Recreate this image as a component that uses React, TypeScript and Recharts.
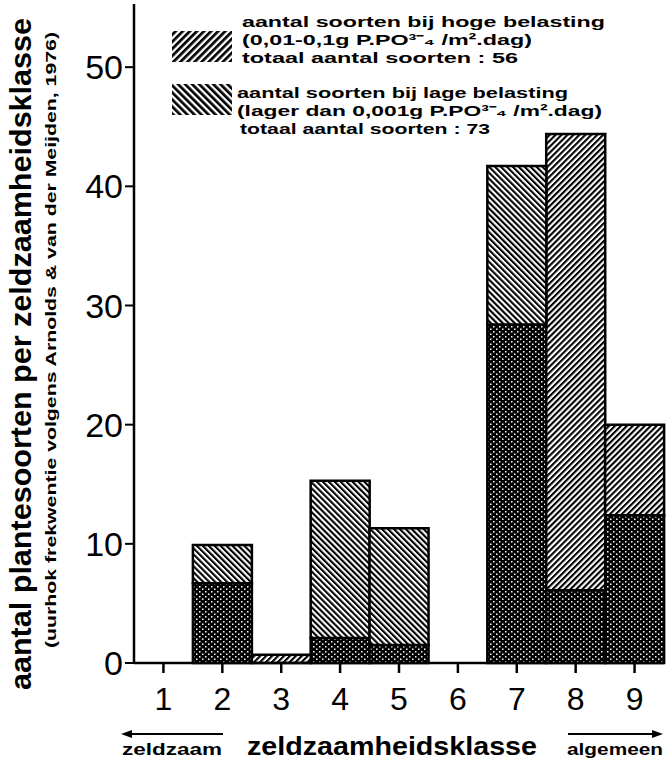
import { BarChart, Bar, XAxis, YAxis } from "recharts";

// zeldzaamheidsklassen (uurhokfrekwentie) en aandeel soorten per klasse
const klassen = ["1", "2", "3", "4", "5", "6", "7", "8", "9"];
const hogeBelasting = [0, 6.7, 0.7, 2.1, 1.5, 0, 28.4, 44.4, 20.0];
const lageBelasting = [0, 9.9, 0, 15.3, 11.3, 0, 41.7, 6.1, 12.4];
const yTicks = [0, 10, 20, 30, 40, 50];

// gemeenschappelijk deel (stippen) + wat er bovenuit steekt (arcering)
const data = klassen.map((klasse, i) => {
  const h = hogeBelasting[i];
  const l = lageBelasting[i];
  return {
    klasse,
    beide: Math.min(h, l),
    hoogExtra: Math.max(h - l, 0),
    laagExtra: Math.max(l - h, 0),
  };
});

const FONT = "'Liberation Sans', Arial, Helvetica, sans-serif";
const W = 666;
const H = 761;

export default function App() {
  return (
    <div style={{ position: "fixed", left: 0, top: 0, width: W, height: H, background: "#fff" }}>
      <BarChart
        width={W}
        height={H}
        data={data}
        margin={{ top: 4, right: 2, bottom: 0, left: 0 }}
        barCategoryGap={0}
        barGap={0}
      >
        <defs>
          <pattern id="stip" width="6" height="5" patternUnits="userSpaceOnUse">
            <rect width="6" height="5" fill="#000" />
            <rect x="1" y="1" width="1.5" height="1.5" fill="#fff" />
            <rect x="4" y="3.5" width="1.5" height="1.5" fill="#fff" />
          </pattern>
          <pattern id="arcering-hoog" width="4.2" height="4.2" patternUnits="userSpaceOnUse" patternTransform="rotate(45)">
            <rect width="4.2" height="4.2" fill="#fff" />
            <rect width="2.1" height="4.2" fill="#000" />
          </pattern>
          <pattern id="arcering-laag" width="4.2" height="4.2" patternUnits="userSpaceOnUse" patternTransform="rotate(-45)">
            <rect width="4.2" height="4.2" fill="#fff" />
            <rect width="2.1" height="4.2" fill="#000" />
          </pattern>
          <pattern id="legenda-hoog" width="5" height="5" patternUnits="userSpaceOnUse" patternTransform="rotate(45)">
            <rect width="5" height="5" fill="#fff" />
            <rect width="2.7" height="5" fill="#000" />
          </pattern>
          <pattern id="legenda-laag" width="5" height="5" patternUnits="userSpaceOnUse" patternTransform="rotate(-45)">
            <rect width="5" height="5" fill="#fff" />
            <rect width="2.7" height="5" fill="#000" />
          </pattern>
        </defs>

        <XAxis
          dataKey="klasse"
          height={98}
          tickSize={10}
          tickMargin={14}
          axisLine={{ stroke: "#000", strokeWidth: 2.5 }}
          tickLine={{ stroke: "#000", strokeWidth: 2.5 }}
          tick={{ fontSize: 32, fill: "#000", fontFamily: FONT }}
        />
        <XAxis xAxisId="top" dataKey="klasse" orientation="top" height={0} tick={false} tickLine={false} axisLine={{ stroke: "#000", strokeWidth: 2 }} />
        <YAxis
          width={134}
          domain={[0, 55.3]}
          ticks={yTicks}
          tickSize={9}
          tickMargin={2}
          axisLine={{ stroke: "#000", strokeWidth: 2.5 }}
          tickLine={{ stroke: "#000", strokeWidth: 2 }}
          tick={{ fontSize: 34, fill: "#000", fontFamily: FONT }}
        />
        <YAxis yAxisId="right" orientation="right" width={0} domain={[0, 55.3]} tick={false} tickLine={false} axisLine={{ stroke: "#000", strokeWidth: 2 }} />

        <Bar dataKey="beide" stackId="s" fill="url(#stip)" stroke="#000" strokeWidth={2.5} isAnimationActive={false} />
        <Bar dataKey="hoogExtra" stackId="s" fill="url(#arcering-hoog)" stroke="#000" strokeWidth={2.5} isAnimationActive={false} />
        <Bar dataKey="laagExtra" stackId="s" fill="url(#arcering-laag)" stroke="#000" strokeWidth={2.5} isAnimationActive={false} />

        {/* legenda */}
        <g fontFamily={FONT} fontWeight="bold" fill="#000">
          <rect x={172} y={31} width={60} height={31} fill="url(#legenda-hoog)" />
          <text x={242} y={27} fontSize={15.5} textLength={363} lengthAdjust="spacingAndGlyphs">aantal soorten bij hoge belasting</text>
          <text x={242} y={45} fontSize={15.5} textLength={290} lengthAdjust="spacingAndGlyphs">(0,01-0,1g P.PO³⁻₄ /m².dag)</text>
          <text x={242} y={63} fontSize={15.5} textLength={276} lengthAdjust="spacingAndGlyphs">totaal aantal soorten : 56</text>

          <rect x={172} y={84} width={60} height={31} fill="url(#legenda-laag)" />
          <text x={237} y={98} fontSize={15.5} textLength={331} lengthAdjust="spacingAndGlyphs">aantal soorten bij lage belasting</text>
          <text x={237} y={116} fontSize={15.5} textLength={365} lengthAdjust="spacingAndGlyphs">(lager dan 0,001g P.PO³⁻₄ /m².dag)</text>
          <text x={240} y={134} fontSize={15.5} textLength={250} lengthAdjust="spacingAndGlyphs">totaal aantal soorten : 73</text>
        </g>

        {/* astitels */}
        <g fontFamily={FONT} fontWeight="bold" fill="#000">
          <text
            transform="translate(31, 354) rotate(-90)"
            textAnchor="middle"
            fontSize={30}
            textLength={672}
            lengthAdjust="spacingAndGlyphs"
          >
            aantal plantesoorten per zeldzaamheidsklasse
          </text>
          <text
            transform="translate(56, 340) rotate(-90)"
            textAnchor="middle"
            fontSize={15}
            textLength={616}
            lengthAdjust="spacingAndGlyphs"
          >
            (uurhok frekwentie volgens Arnolds &amp; van der Meijden, 1976)
          </text>

          <line x1={128} y1={734} x2={223} y2={734} stroke="#000" strokeWidth={2} />
          <polygon points="121,734 132,730 132,738" fill="#000" />
          <text x={122} y={755} fontSize={17} textLength={100} lengthAdjust="spacingAndGlyphs">zeldzaam</text>

          <text x={247} y={755} fontSize={26} textLength={290} lengthAdjust="spacingAndGlyphs">zeldzaamheidsklasse</text>

          <line x1={568} y1={734} x2={656} y2={734} stroke="#000" strokeWidth={2} />
          <polygon points="663,734 652,730 652,738" fill="#000" />
          <text x={567} y={755} fontSize={17} textLength={96} lengthAdjust="spacingAndGlyphs">algemeen</text>
        </g>
      </BarChart>
    </div>
  );
}
